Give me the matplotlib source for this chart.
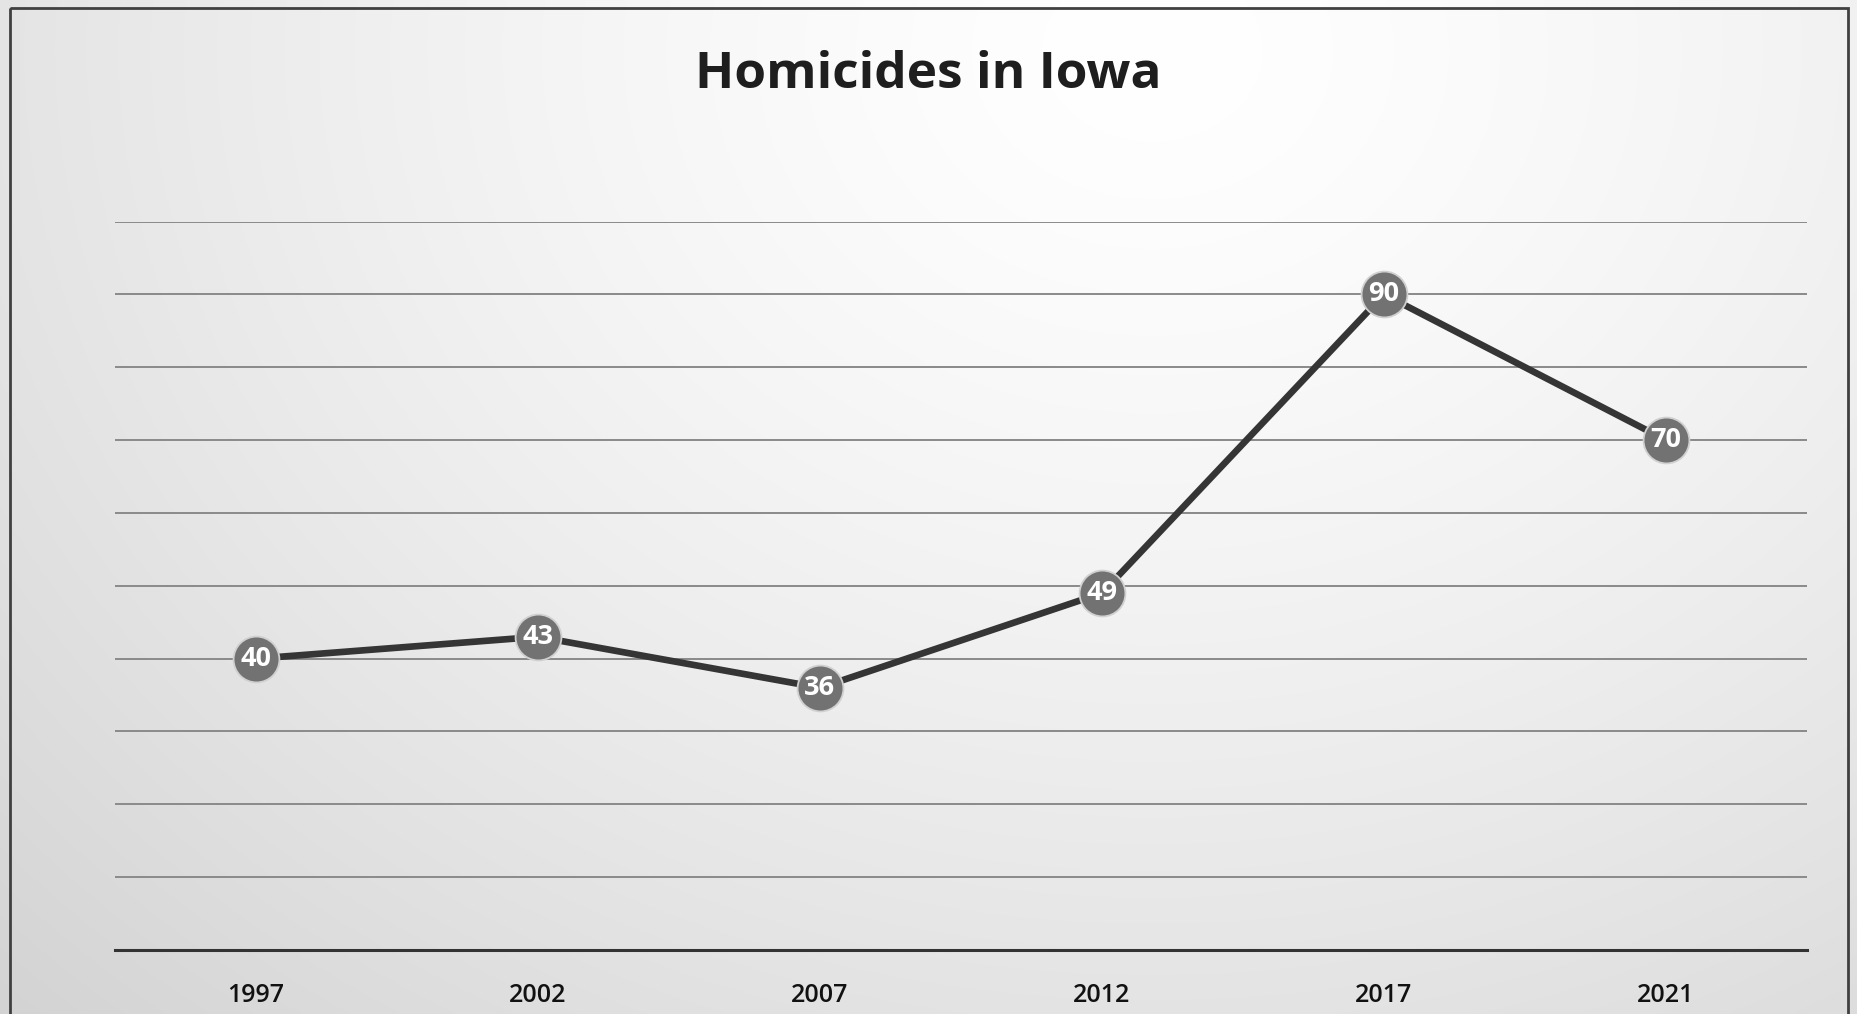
import numpy as np
import matplotlib
matplotlib.use("Agg")
import matplotlib.pyplot as plt
from matplotlib.patches import Rectangle

years = ["1997", "2002", "2007", "2012", "2017", "2021"]
homicides = [40, 43, 36, 49, 90, 70]
title = "Homicides in Iowa"

W, H = 1858, 1014
fig = plt.figure(figsize=(W / 100, H / 100), dpi=100)

# background gradient
bg = fig.add_axes([0, 0, 1, 1], zorder=0)
yy, xx = np.mgrid[0:H, 0:W]
cx, cy = 0.62 * W, 0.05 * H
d = np.sqrt(((xx - cx) / (0.8 * W)) ** 2 + ((yy - cy) / (1.2 * H)) ** 2)
val = 1.0 - 0.15 * np.clip(d, 0, 1.2) ** 1.4
img = np.dstack([val, val, val])
bg.imshow(img, extent=[0, W, H, 0], aspect="auto", interpolation="bilinear")
bg.add_patch(Rectangle((10, 8), W - 20, H + 20, fill=False, edgecolor="#404040", linewidth=2))
bg.set_xlim(0, W)
bg.set_ylim(H, 0)
bg.axis("off")

ax = fig.add_axes([115 / W, 1 - 950 / H, (1807 - 115) / W, (950 - 221.6) / H], zorder=1)
ax.patch.set_alpha(0)
x = np.arange(len(years))
ax.set_xlim(-0.5, len(years) - 0.5)
ax.set_ylim(0, 100)
ax.set_yticks(np.arange(10, 101, 10))
ax.yaxis.grid(True, color="#8a8a8a", linewidth=1.4)
ax.set_axisbelow(True)
for s in ["top", "right", "left"]:
    ax.spines[s].set_visible(False)
ax.spines["bottom"].set_color("#333333")
ax.spines["bottom"].set_linewidth(2.2)
ax.tick_params(axis="y", left=False, labelleft=False)
ax.tick_params(axis="x", length=0, pad=24, labelsize=18, labelcolor="#111111")
ax.set_xticks(x)
ax.set_xticklabels(years, fontfamily="Open Sans", fontweight="semibold")

ax.plot(x, homicides, color="#353535", linewidth=4.8, zorder=3, solid_capstyle="round")
ax.plot(x, homicides, linestyle="none", marker="o", markersize=33,
        markerfacecolor="#727272", markeredgecolor="#d0d0d0", markeredgewidth=1.3, zorder=4)
for xi, v in zip(x, homicides):
    ax.text(xi, v, str(v), ha="center", va="center", color="white", fontsize=19.5,
            fontweight="bold", fontfamily="Open Sans", zorder=5)

fig.text(0.4994, 0.926, title, ha="center", va="center", fontsize=37,
         fontweight="bold", fontfamily="Open Sans", color="#1e1e1e")

fig.savefig("out.png", dpi=100)
